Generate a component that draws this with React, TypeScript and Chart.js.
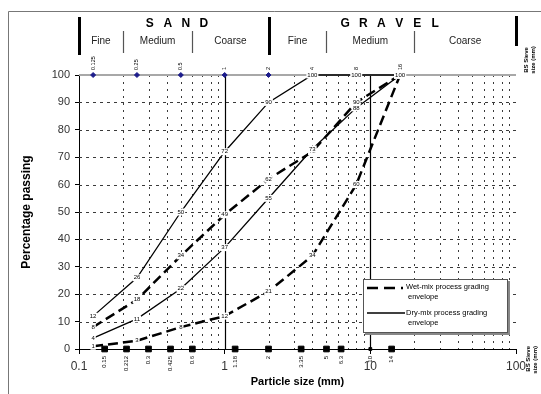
import React, { useEffect, useRef } from 'react';
import { Chart, registerables } from 'chart.js';
Chart.register(...registerables);

const FONT = '"Liberation Sans", Arial, sans-serif';

// Data points (particle size in mm, percentage passing)
const sieveSizes = [0.125, 0.25, 0.5, 1, 2, 4, 8, 16];
const dryUpper = [12, 26, 50, 72, 90, 100, 100, 100];
const wetUpper = [8, 18, 34, 49, 62, 72, 90, 100];
const dryLower = [4, 11, 22, 37, 55, 73, 88, 100];
const wetLower = [1, 3, 8, 12, 21, 34, 60, 100];

const topSieveLabels = ['0.125', '0.25', '0.5', '1', '2', '4', '8', '16'];
const bottomSieves = [0.15, 0.212, 0.3, 0.425, 0.6, 1.18, 2, 3.35, 5, 6.3, 10, 14];
const bottomSieveLabels = ['0.15', '0.212', '0.3', '0.425', '0.6', '1.18', '2', '3.35', '5', '6.3', '10', '14'];

const xTickValues = [0.1, 1, 10, 100];
const yTickValues = [0, 10, 20, 30, 40, 50, 60, 70, 80, 90, 100];
const hGridValues = [10, 20, 30, 40, 50, 60, 70, 80, 90];
const minorGridValues = [0.2, 0.3, 0.4, 0.5, 0.6, 0.7, 0.8, 0.9, 2, 3, 4, 5, 6, 7, 8, 9, 20, 30, 40, 50, 60, 70, 80, 90];
const majorGridValues = [1, 10];

const soilGroups = ['SAND', 'GRAVEL'];
const groupBounds = [0.1, 2, 100];
const subClasses = ['Fine', 'Medium', 'Coarse', 'Fine', 'Medium', 'Coarse'];
const subBounds = [0.1, 0.2, 0.6, 2, 5, 20, 100];

const legendLabels = [
  ['Wet-mix process grading', 'envelope'],
  ['Dry-mix process grading', 'envelope'],
];

const pts = (vals: number[]) => vals.map((v, i) => ({ x: sieveSizes[i], y: v }));

const customPlugin = {
  id: 'gradingDecor',
  beforeDatasetsDraw(chart: any) {
    const { ctx, chartArea: a, scales } = chart;
    const x = scales.x, y = scales.y;
    ctx.save();
    const line = (x1: number, y1: number, x2: number, y2: number) => {
      ctx.beginPath(); ctx.moveTo(x1, y1); ctx.lineTo(x2, y2); ctx.stroke();
    };
    ctx.lineWidth = 1;
    ctx.strokeStyle = '#3a3a3a';
    ctx.setLineDash([3, 4]);
    for (const v of hGridValues) {
      const py = Math.round(y.getPixelForValue(v)) + 0.5;
      line(a.left, py, a.right, py);
    }
    ctx.setLineDash([2, 5]);
    for (const v of minorGridValues) {
      const px = Math.round(x.getPixelForValue(v)) + 0.5;
      line(px, a.top, px, a.bottom);
    }
    ctx.setLineDash([]);
    ctx.strokeStyle = '#000';
    ctx.lineWidth = 1.2;
    for (const v of majorGridValues) {
      const px = Math.round(x.getPixelForValue(v)) + 0.5;
      line(px, a.top, px, a.bottom);
    }
    ctx.strokeStyle = '#a8a8a8';
    ctx.lineWidth = 2;
    line(a.left, a.top, a.right, a.top);
    ctx.restore();
  },
  afterDatasetsDraw(chart: any) {
    const { ctx, chartArea: a, scales } = chart;
    const x = scales.x;
    ctx.save();
    const line = (x1: number, y1: number, x2: number, y2: number) => {
      ctx.beginPath(); ctx.moveTo(x1, y1); ctx.lineTo(x2, y2); ctx.stroke();
    };

    // point value labels
    ctx.font = `6px ${FONT}`;
    ctx.textAlign = 'center';
    ctx.textBaseline = 'middle';
    for (let d = 0; d < 4; d++) {
      const meta = chart.getDatasetMeta(d);
      const data = chart.data.datasets[d].data;
      meta.data.forEach((el: any, i: number) => {
        const t = String(data[i].y);
        const w = ctx.measureText(t).width + 2;
        ctx.fillStyle = '#fff';
        ctx.fillRect(el.x - w / 2, el.y - 3.5, w, 7);
        ctx.fillStyle = '#000';
        ctx.fillText(t, el.x, el.y);
      });
    }

    // top sieve labels
    ctx.font = `5.5px ${FONT}`;
    ctx.fillStyle = '#000';
    sieveSizes.forEach((s, i) => {
      const px = x.getPixelForValue(s);
      ctx.save();
      ctx.translate(px, a.top - 5);
      ctx.rotate(-Math.PI / 2);
      ctx.textAlign = 'left';
      ctx.textBaseline = 'middle';
      ctx.fillText(topSieveLabels[i], 0, 0);
      ctx.restore();
    });
    // bottom sieve labels
    ctx.font = `6px ${FONT}`;
    bottomSieves.forEach((s, i) => {
      const px = x.getPixelForValue(s);
      ctx.save();
      ctx.translate(px, a.bottom + 7);
      ctx.rotate(-Math.PI / 2);
      ctx.textAlign = 'right';
      ctx.textBaseline = 'middle';
      ctx.fillText(bottomSieveLabels[i], 0, 0);
      ctx.restore();
    });

    // header: thick bars
    ctx.strokeStyle = '#000';
    ctx.lineWidth = 3;
    groupBounds.forEach((b, i) => {
      const px = Math.round(x.getPixelForValue(b)) + 0.5;
      if (i === groupBounds.length - 1) line(px, 16, px, 46);
      else line(px, 17, px, 55);
    });
    // thin separators
    ctx.strokeStyle = '#555';
    ctx.lineWidth = 1.2;
    subBounds.forEach((b) => {
      if (groupBounds.includes(b)) return;
      const px = Math.round(x.getPixelForValue(b)) + 0.5;
      line(px, 31, px, 53);
    });
    // group titles
    ctx.font = `bold 12px ${FONT}`;
    ctx.fillStyle = '#000';
    ctx.textAlign = 'center';
    ctx.textBaseline = 'middle';
    soilGroups.forEach((g, i) => {
      const c = (x.getPixelForValue(groupBounds[i]) + x.getPixelForValue(groupBounds[i + 1])) / 2 + (i === 0 ? 3 : -2);
      const letters = g.split('');
      letters.forEach((l, k) => {
        ctx.fillText(l, c + (k - (letters.length - 1) / 2) * 18, 24);
      });
    });
    ctx.font = `10px ${FONT}`;
    ctx.fillStyle = '#222';
    subClasses.forEach((s, i) => {
      const c = (x.getPixelForValue(subBounds[i]) + x.getPixelForValue(subBounds[i + 1])) / 2;
      ctx.fillText(s, c, 41);
    });

    // BS sieve size captions
    ctx.font = `bold 6px ${FONT}`;
    ctx.fillStyle = '#000';
    ctx.save();
    ctx.translate(526, 60);
    ctx.rotate(-Math.PI / 2);
    ctx.textAlign = 'center';
    ctx.textBaseline = 'middle';
    ctx.fillText('BS Sieve', 0, 0);
    ctx.fillText('size (mm)', 0, 7);
    ctx.restore();
    ctx.save();
    ctx.translate(528, 346);
    ctx.rotate(-Math.PI / 2);
    ctx.textAlign = 'right';
    ctx.textBaseline = 'middle';
    ctx.fillText('BS Sieve', 0, 0);
    ctx.fillText('size (mm)', 0, 7);
    ctx.restore();

    // legend
    const lx = 363, ly = 279, lw = 144, lh = 53;
    ctx.fillStyle = '#888';
    ctx.fillRect(lx + 2, ly + 2, lw + 1, lh + 1);
    ctx.fillStyle = '#fff';
    ctx.fillRect(lx, ly, lw, lh);
    ctx.strokeStyle = '#555';
    ctx.lineWidth = 1;
    ctx.strokeRect(lx + 0.5, ly + 0.5, lw, lh);
    ctx.strokeStyle = '#000';
    ctx.lineWidth = 2.5;
    ctx.setLineDash([11, 6]);
    line(lx + 4, ly + 9, lx + 40, ly + 9);
    ctx.setLineDash([]);
    ctx.lineWidth = 1.5;
    line(lx + 4, ly + 34, lx + 42, ly + 34);
    ctx.font = `7.5px ${FONT}`;
    ctx.fillStyle = '#000';
    ctx.textAlign = 'left';
    ctx.textBaseline = 'middle';
    ctx.fillText(legendLabels[0][0], lx + 43, ly + 8);
    ctx.fillText(legendLabels[0][1], lx + 45, ly + 18);
    ctx.fillText(legendLabels[1][0], lx + 43, ly + 34);
    ctx.fillText(legendLabels[1][1], lx + 45, ly + 44);

    // axis titles
    ctx.font = `bold 11px ${FONT}`;
    ctx.textAlign = 'center';
    ctx.textBaseline = 'middle';
    ctx.fillText('Particle size (mm)', (a.left + a.right) / 2, 382);
    ctx.font = `bold 12px ${FONT}`;
    ctx.save();
    ctx.translate(27, (a.top + a.bottom) / 2);
    ctx.rotate(-Math.PI / 2);
    ctx.fillText('Percentage passing', 0, 0);
    ctx.restore();

    // frame
    ctx.strokeStyle = '#777';
    ctx.lineWidth = 1;
    line(8.5, 11.5, 541, 11.5);
    line(8.5, 11.5, 8.5, 394);
    ctx.restore();
  },
};

export default function App() {
  const ref = useRef<HTMLCanvasElement | null>(null);
  useEffect(() => {
    if (!ref.current) return;
    const lineDs = (label: string, vals: number[], dashed: boolean) => ({
      type: 'line' as const,
      label,
      data: pts(vals),
      borderColor: '#000',
      borderWidth: dashed ? 2.5 : 1.3,
      borderDash: dashed ? [10, 5] : [],
      pointRadius: 0,
      tension: 0,
      fill: false,
      clip: false as any,
    });
    const chart = new Chart(ref.current, {
      type: 'scatter',
      data: {
        datasets: [
          lineDs('Dry-mix upper', dryUpper, false),
          lineDs('Wet-mix upper', wetUpper, true),
          lineDs('Dry-mix lower', dryLower, false),
          lineDs('Wet-mix lower', wetLower, true),
          {
            type: 'scatter' as const,
            label: 'top sieves',
            data: sieveSizes.map((s) => ({ x: s, y: 100 })),
            pointStyle: 'rectRot',
            pointRadius: 2.5,
            backgroundColor: '#1c1c8c',
            borderColor: '#1c1c8c',
            clip: false as any,
          },
          {
            type: 'scatter' as const,
            label: 'bottom sieves',
            data: bottomSieves.map((s) => ({ x: s, y: 0 })),
            pointStyle: 'rect',
            pointRadius: (c: any) => (c.raw && c.raw.x === 10 ? 2 : 4),
            backgroundColor: '#000',
            borderColor: '#000',
            clip: false as any,
          },
        ] as any,
      },
      options: {
        animation: false,
        responsive: false,
        layout: { padding: { left: 0, top: 75, right: 25, bottom: 0 } },
        plugins: { legend: { display: false }, tooltip: { enabled: false } },
        scales: {
          x: {
            type: 'logarithmic',
            min: 0.1,
            max: 100,
            afterBuildTicks: (s: any) => {
              s.ticks = xTickValues.map((v) => ({ value: v }));
            },
            afterFit: (s: any) => {
              s.height = 45;
            },
            ticks: {
              autoSkip: false,
              maxRotation: 0,
              padding: 5,
              color: '#333',
              font: { family: FONT, size: 12 },
              callback: (v: any) => String(v),
            },
            grid: { drawOnChartArea: false, tickLength: 5, color: '#000' },
            border: { color: '#000', width: 1 },
          },
          y: {
            min: 0,
            max: 100,
            afterBuildTicks: (s: any) => {
              s.ticks = yTickValues.map((v) => ({ value: v }));
            },
            afterFit: (s: any) => {
              s.width = 79;
            },
            ticks: {
              padding: 5,
              color: '#333',
              font: { family: FONT, size: 11 },
            },
            grid: { drawOnChartArea: false, tickLength: 4, color: '#000' },
            border: { color: '#000', width: 1 },
          },
        },
      } as any,
      plugins: [customPlugin],
    });
    return () => chart.destroy();
  }, []);
  return (
    <div style={{ position: 'absolute', left: 0, top: 0, width: 541, height: 394, background: '#fff' }}>
      <canvas ref={ref} width={541} height={394} style={{ width: 541, height: 394, display: 'block' }} />
    </div>
  );
}
